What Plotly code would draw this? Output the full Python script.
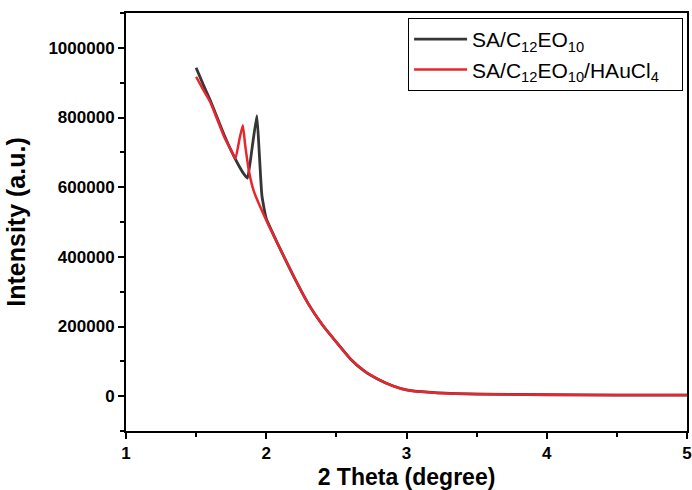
import plotly.graph_objects as go

# Series 1: SA/C12EO10
x_black = [1.5, 1.55, 1.6, 1.65, 1.7, 1.75, 1.8, 1.84, 1.866, 1.90, 1.933, 1.95, 1.969, 2.0,
           2.1, 2.2, 2.3, 2.4, 2.5, 2.6, 2.7, 2.8, 2.9, 3.0, 3.2, 3.5, 4.0, 4.5, 5.0]
y_black = [943000, 895000, 850000, 800000, 750000, 705000, 665000, 638000, 626000, 715000, 805000, 700000, 576000, 510000,
           422000, 340000, 265000, 205000, 155000, 107000, 72000, 48000, 30000, 18000, 10000, 6000, 4000, 3000, 3000]

# Series 2: SA/C12EO10/HAuCl4
x_red = [1.5, 1.55, 1.6, 1.65, 1.7, 1.75, 1.78, 1.81, 1.833, 1.85, 1.88, 1.91, 2.0,
         2.1, 2.2, 2.3, 2.4, 2.5, 2.6, 2.7, 2.8, 2.9, 3.0, 3.2, 3.5, 4.0, 4.5, 5.0]
y_red = [917000, 880000, 845000, 795000, 745000, 705000, 682000, 740000, 778000, 720000, 639000, 590000, 505000,
         422000, 340000, 265000, 205000, 155000, 107000, 72000, 48000, 30000, 18000, 10000, 6000, 4000, 3000, 3000]

name_black = "SA/C<sub>12</sub>EO<sub>10</sub>"
name_red = "SA/C<sub>12</sub>EO<sub>10</sub>/HAuCl<sub>4</sub>\u00a0\u00a0\u00a0"

x_ticks = [1, 2, 3, 4, 5]
y_ticks = [0, 200000, 400000, 600000, 800000, 1000000]

fig = go.Figure()
fig.add_trace(go.Scatter(x=x_black, y=y_black, mode="lines", name=name_black,
                         line=dict(color="#363636", width=2.8, shape="spline", smoothing=0.4)))
fig.add_trace(go.Scatter(x=x_red, y=y_red, mode="lines", name=name_red,
                         line=dict(color="#e8262e", width=2.5, shape="spline", smoothing=0.4)))

font_family = "Liberation Sans, Arial, sans-serif"

fig.update_layout(
    width=692, height=490,
    margin=dict(l=126, r=5, t=13, b=59),
    paper_bgcolor="white", plot_bgcolor="white",
    font=dict(family=font_family, color="black"),
    showlegend=True,
    legend=dict(x=0.993, y=0.988, xanchor="right", yanchor="top",
                bgcolor="white", bordercolor="black", borderwidth=1,
                font=dict(size=21, family=font_family, color="black"),
                itemwidth=53, tracegroupgap=0),
    xaxis=dict(range=[1, 5], tickvals=x_ticks, ticktext=[str(v) for v in x_ticks],
               automargin=False,
               showline=True, linecolor="black", linewidth=2, mirror=True,
               ticks="outside", ticklen=6, tickwidth=2, tickcolor="black",
               minor=dict(ticks="outside", ticklen=4, tickwidth=2, tickcolor="black", dtick=0.5),
               showgrid=False, zeroline=False,
               tickfont=dict(size=17, family=font_family, color="black", weight="bold"),
               title=dict(text="<b>2 Theta (degree)</b>", font=dict(size=23, family=font_family), standoff=9)),
    yaxis=dict(range=[-100000, 1100000], tickvals=y_ticks, ticktext=[str(v) for v in y_ticks],
               automargin=False,
               showline=True, linecolor="black", linewidth=2, mirror=True,
               ticks="outside", ticklen=6, tickwidth=2, tickcolor="black",
               minor=dict(ticks="outside", ticklen=4, tickwidth=2, tickcolor="black", dtick=100000),
               showgrid=False, zeroline=False,
               tickfont=dict(size=17, family=font_family, color="black", weight="bold"),
               title=dict(text="<b>Intensity (a.u.)</b>", font=dict(size=25, family=font_family), standoff=16)),
)

fig.write_html("out.html")
